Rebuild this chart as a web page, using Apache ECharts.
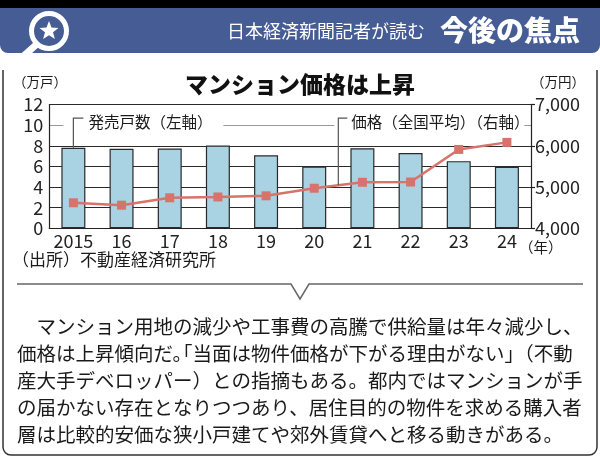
<!DOCTYPE html>
<html><head><meta charset="utf-8">
<script src="https://cdn.jsdelivr.net/npm/echarts@6/dist/echarts.min.js"></script>
<style>html,body{margin:0;padding:0;background:#fff}#c{width:600px;height:460px}</style>
</head><body><div id="c"></div>
<script>
// ---- data ----
const years = ['2015','16','17','18','19','20','21','22','23','24'];
const supply = [7.81, 7.70, 7.74, 8.03, 7.07, 5.99, 7.76, 7.30, 6.51, 5.95];   // 万戸 (left axis)
const price = [4618, 4560, 4739, 4759, 4787, 4971, 5115, 5121, 5911, 6082];    // 万円 (right axis)
const leftTicks = [0, 2, 4, 6, 8, 10, 12];
const rightTicks = [4000, 5000, 6000, 7000];
const paragraph = [
  '　マンション用地の減少や工事費の高騰で供給量は年々減少し、',
  ['価格は上昇傾向だ。', '「当面は物件価格が下がる理由がない」（不動'],
  '産大手デベロッパー）との指摘もある。都内ではマンションが手',
  'の届かない存在となりつつあり、居住目的の物件を求める購入者',
  '層は比較的安価な狭小戸建てや郊外賃貸へと移る動きがある。'
];

const FONT = '"Noto Sans CJK JP","Noto Sans",sans-serif';
const BLUE = '#465c94';
const chart = echarts.init(document.getElementById('c'), null, {renderer: 'canvas'});

const gridColors = leftTicks.map(v => v === 10 ? '#9a9a9a' : '#2a2a2a');

chart.setOption({
  animation: false,
  backgroundColor: '#fff',
  textStyle: {fontFamily: FONT},
  title: {
    text: 'マンション価格は上昇', left: 'center', top: 68,
    textStyle: {fontSize: 23, fontWeight: 900, color: '#111', fontFamily: FONT}
  },
  grid: {left: 49.3, right: 69, top: 104.5, bottom: 231.7},
  xAxis: {
    type: 'category', data: years,
    axisLine: {lineStyle: {color: '#222', width: 1.2}},
    axisTick: {show: false},
    axisLabel: {interval: 0, fontSize: 18, color: '#222', margin: 4, fontFamily: FONT}
  },
  yAxis: [{
    type: 'value', min: leftTicks[0], max: leftTicks[leftTicks.length - 1],
    interval: leftTicks[1] - leftTicks[0],
    axisLine: {show: true, lineStyle: {color: '#222', width: 1.2}},
    axisTick: {show: false},
    axisLabel: {fontSize: 18, color: '#222', margin: 6, fontFamily: FONT},
    splitLine: {show: true, lineStyle: {color: gridColors, width: 1.2}}
  }, {
    type: 'value', position: 'right',
    min: rightTicks[0], max: rightTicks[rightTicks.length - 1],
    interval: rightTicks[1] - rightTicks[0],
    axisLine: {show: true, lineStyle: {color: '#222', width: 1.2}},
    axisTick: {show: true, length: 4, lineStyle: {color: '#222', width: 1.2}},
    axisLabel: {fontSize: 18, color: '#222', margin: 4, fontFamily: FONT,
      formatter: v => v.toLocaleString('en-US')},
    splitLine: {show: false}
  }],
  series: [{
    type: 'bar', data: supply, barWidth: 24, z: 2,
    itemStyle: {color: '#a9d3e3', borderColor: '#2a2a2a', borderWidth: 1.2}
  }, {
    type: 'line', yAxisIndex: 1, data: price, z: 3,
    symbol: 'rect', symbolSize: 9,
    lineStyle: {color: '#d6736a', width: 2.5},
    itemStyle: {color: '#d6736a'}
  }]
});

// ---- annotations positioned from the axes ----
const toPx = (i, v, yi) => chart.convertToPixel({xAxisIndex: 0, yAxisIndex: yi}, [i, v]);
const g10 = chart.convertToPixel({yAxisIndex: 0}, 10);
const leftLead = toPx(0, supply[0], 0);          // top of first bar
const c5 = toPx(5, 0, 0)[0], c6 = toPx(6, 0, 0)[0];
const bx = (c5 + c6) / 2;
const by = chart.convertToPixel({yAxisIndex: 1}, (price[5] + price[6]) / 2);
const lx = leftLead[0];
const topY = g10 - 7;

const star = [];
for (let k = 0; k < 10; k++) {
  const r = k % 2 === 0 ? 10 : 4.2;
  const a = -Math.PI / 2 + k * Math.PI / 5;
  star.push([49 + r * Math.cos(a), 31 + r * Math.sin(a)]);
}

const txt = (text, x, y, size, extra) => ({
  type: 'text', z: 20,
  style: Object.assign({text, x, y, fontSize: size, fontFamily: FONT, fill: '#1a1a1a',
    align: 'left', verticalAlign: 'middle'}, extra || {})
});

const graphics = [
  // card frame (top edge hidden behind header area)
  {type: 'rect', z: 5, shape: {x: 3, y: 30, width: 594, height: 425, r: 8},
    style: {fill: 'none', stroke: '#333', lineWidth: 1.5}},
  {type: 'rect', z: 6, shape: {x: 0, y: 8, width: 600, height: 62}, style: {fill: '#fff'}},
  // header
  {type: 'rect', z: 10, shape: {x: 0, y: 8, width: 600, height: 45, r: [0, 0, 8, 8]}, style: {fill: BLUE}},
  {type: 'rect', z: 11, shape: {x: 0, y: 0, width: 600, height: 8}, style: {fill: '#000'}},
  {type: 'line', z: 11, shape: {x1: 37, y1: 44, x2: 19, y2: 60}, style: {stroke: '#fff', lineWidth: 7, lineCap: 'round'}},
  {type: 'circle', z: 12, shape: {cx: 49, cy: 31, r: 17.5}, style: {fill: BLUE, stroke: '#fff', lineWidth: 5}},
  {type: 'polygon', z: 13, shape: {points: star}, style: {fill: '#fff'}},
  txt('日本経済新聞記者が読む', 425, 31, 18, {fill: '#fff', align: 'right'}),
  txt('今後の焦点', 580, 30, 28, {fill: '#fff', align: 'right', fontWeight: 900}),
  // axis units
  txt('（万戸）', 13, 82, 13.5),
  txt('（万円）', 531, 82, 13.5),
  txt('（年）', 519, 247, 14.5),
  txt('（出所）不動産経済研究所', 12, 260, 17),
  // label backgrounds breaking the 10 gridline
  {type: 'rect', z: 8, shape: {x: lx - 10, y: g10 - 6, width: 160, height: 12}, style: {fill: '#fff'}},
  {type: 'rect', z: 8, shape: {x: bx - 4, y: g10 - 6, width: 190, height: 12}, style: {fill: '#fff'}},
  // leaders
  {type: 'polyline', z: 9, shape: {points: [[lx + 10, topY], [lx, topY], [lx, leftLead[1]]]},
    style: {stroke: '#555', lineWidth: 1.2, fill: 'none'}},
  {type: 'polyline', z: 9, shape: {points: [[bx + 9, topY], [bx, topY], [bx, by]]},
    style: {stroke: '#555', lineWidth: 1.2, fill: 'none'}},
  txt('発売戸数（左軸）', lx + 15, g10 - 3, 15.5),
  txt('価格（全国平均）（右軸）', bx + 13, g10 - 3, 15.5),
  // divider with pointer
  {type: 'polyline', z: 5, shape: {points: [[17, 284], [291, 284], [300, 299], [309, 284], [583, 284]]},
    style: {stroke: '#666', lineWidth: 1.5, fill: 'none'}}
];

const em = 19.5;
paragraph.forEach((line, i) => {
  const y = 327 + i * 26.8;
  if (Array.isArray(line)) {
    graphics.push(txt(line[0], 17, y, em));
    graphics.push(txt(line[1], 17 + (line[0].length - 1) * em, y, em));
  } else {
    graphics.push(txt(line, 17, y, em));
  }
});

chart.setOption({graphic: graphics});
</script>
</body></html>
